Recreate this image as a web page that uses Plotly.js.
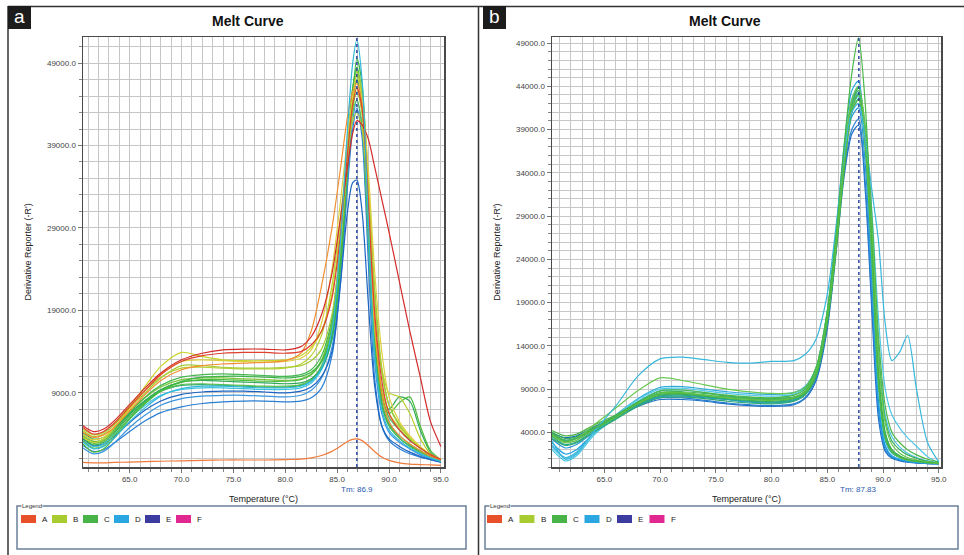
<!DOCTYPE html>
<html><head><meta charset="utf-8">
<script src="https://cdn.plot.ly/plotly-3.0.1.min.js"></script>
<style>html,body{margin:0;padding:0;background:#fff}#chart{width:964px;height:555px}</style>
</head><body><div id="chart"></div>
<script>
// ---------- DATA ----------
const panelLabels = ['a', 'b'];
const chartTitle = 'Melt Curve';
const xTitle = 'Temperature (°C)';
const yTitle = "Derivative Reporter (-R')";
const legendLabels = ['A', 'B', 'C', 'D', 'E', 'F'];
const tmA = 86.9;
const tmB = 87.83;
const tmTextA = 'Tm: 86.9';
const tmTextB = 'Tm: 87.83';

// Panel a temperatures (°C)
const tempA = [60.5, 61.5, 62.5, 63.5, 65, 66.5, 68, 70, 72, 74, 76, 78, 80, 81.5, 82.5, 83.5, 84.5, 85.3, 86, 86.5, 86.9, 87.4, 88, 88.6, 89.3, 90, 91, 92, 93, 94, 95];
// Panel a curves (-R')
const a01 = [5000, 4300, 4600, 5600, 7600, 9600, 11400, 13000, 13800, 14200, 14300, 14300, 14200, 14600, 15800, 18500, 23500, 30000, 36500, 40500, 42000, 41500, 39800, 36500, 32500, 28500, 22500, 16500, 11000, 5500, 2500];
const a02 = [550, 500, 500, 550, 600, 650, 700, 750, 800, 850, 850, 850, 900, 950, 1100, 1400, 1900, 2500, 3100, 3350, 3400, 3200, 2600, 1900, 1200, 800, 500, 350, 300, 250, 200];
const a03 = [4200, 3600, 3900, 4800, 6800, 8800, 10500, 11800, 12300, 12500, 12600, 12700, 12900, 13800, 16500, 22000, 29000, 36000, 42500, 45500, 46500, 44000, 33000, 18000, 9000, 5500, 3800, 2800, 2000, 1300, 800];
const a04 = [4800, 4000, 4300, 5300, 7300, 9300, 11200, 12800, 13500, 13800, 13900, 13900, 13800, 14000, 14800, 16500, 20500, 28000, 38000, 44000, 46000, 43500, 32000, 19000, 10500, 6500, 4500, 3200, 2300, 1500, 900];
const a05 = [3600, 3000, 3400, 4700, 7200, 9800, 12200, 13900, 13400, 13000, 12900, 12900, 13000, 13500, 14500, 16500, 21000, 29000, 38500, 44500, 46000, 43000, 31000, 17000, 9500, 6500, 4800, 3500, 2400, 1500, 900];
const a06 = [3900, 3300, 3600, 4800, 7000, 9300, 11300, 12800, 13000, 12900, 12800, 12700, 12800, 13200, 14200, 17500, 24000, 32000, 40000, 45000, 47500, 44500, 36000, 24000, 14000, 8500, 5500, 3800, 2500, 1500, 900];
const a07 = [4400, 3700, 4000, 5100, 7100, 9000, 10800, 12300, 12300, 12100, 12000, 12000, 12100, 12300, 12900, 14300, 18500, 26500, 37000, 44000, 48000, 45500, 35000, 21000, 11500, 7500, 5200, 3600, 2400, 1500, 900];
const a08 = [3500, 2700, 3000, 4100, 6200, 7900, 9300, 10400, 10900, 11000, 11000, 10900, 10800, 11000, 11500, 12800, 16000, 24000, 36000, 45000, 49500, 46500, 32000, 16000, 8000, 5200, 3800, 2800, 2000, 1300, 800];
const a09 = [2800, 1800, 2200, 3500, 5800, 7700, 9200, 10300, 10600, 10600, 10500, 10400, 10400, 10600, 11200, 12800, 17000, 26000, 38000, 46000, 48500, 45000, 30000, 15000, 8500, 6500, 7800, 8500, 5000, 2000, 900];
const a10 = [4200, 3400, 3600, 4600, 6500, 8100, 9400, 10300, 10500, 10400, 10300, 10200, 10100, 10200, 10700, 12000, 15500, 24000, 36000, 44000, 47000, 44000, 31000, 17000, 9500, 7000, 8500, 8000, 4500, 1800, 800];
const a11 = [3200, 2300, 2600, 3800, 6000, 7800, 9200, 10000, 10100, 10000, 9900, 9800, 9800, 10000, 10600, 12300, 16500, 25500, 37000, 43000, 44500, 41500, 28000, 14000, 7500, 5000, 3500, 2500, 1800, 1200, 700];
const a12 = [3800, 2900, 3200, 4300, 6400, 8000, 9200, 9900, 10000, 9900, 9800, 9700, 9700, 9900, 10500, 12000, 16000, 25000, 37500, 45000, 47500, 44000, 29000, 14500, 7500, 5000, 3500, 2600, 1900, 1200, 700];
const a13 = [3000, 2200, 2500, 3500, 5500, 7200, 8600, 9500, 9800, 9800, 9700, 9600, 9600, 9800, 10400, 12000, 16500, 27000, 41000, 49000, 51800, 47000, 30000, 14000, 7000, 4500, 3200, 2300, 1600, 1100, 700];
const a14 = [2600, 1900, 2100, 2900, 4300, 5600, 6600, 7300, 7700, 7900, 8000, 8000, 7900, 8000, 8400, 9600, 13500, 22000, 34000, 41000, 43500, 40000, 25000, 11000, 5000, 3200, 2200, 1600, 1200, 900, 600];
const a15 = [3400, 2600, 2800, 3700, 5400, 6900, 8000, 8800, 9100, 9200, 9200, 9100, 9000, 9200, 9700, 11000, 14000, 22000, 31000, 34500, 34800, 31000, 20000, 10000, 5000, 3400, 2500, 1800, 1300, 900, 600];
const a16 = [3200, 2500, 2800, 3900, 5900, 7500, 8700, 9400, 9600, 9600, 9500, 9400, 9400, 9600, 10200, 11800, 15500, 24500, 37000, 45000, 47500, 45000, 33000, 18000, 9000, 5500, 3600, 2500, 1700, 1100, 700];
const a17 = [2300, 1600, 1900, 2900, 4800, 6300, 7500, 8300, 8600, 8700, 8700, 8600, 8500, 8700, 9300, 10800, 14500, 23000, 35000, 42000, 44500, 41000, 27000, 13000, 6500, 4200, 3000, 2200, 1500, 1000, 600];
const a18 = [4600, 3900, 4200, 5300, 7400, 9300, 10900, 12000, 12100, 12000, 11900, 11900, 12000, 12500, 13500, 16000, 22000, 30000, 38000, 42000, 43000, 41000, 33000, 21000, 12000, 9000, 8500, 6500, 3500, 1600, 900];
const a19 = [4000, 3100, 3400, 4600, 6700, 8500, 9900, 10900, 11200, 11300, 11200, 11100, 11000, 11200, 11800, 13500, 18000, 27000, 39000, 46000, 48000, 45000, 32000, 17000, 9000, 6000, 4500, 3300, 2300, 1400, 800];
const a20 = [3700, 2900, 3200, 4400, 6600, 8400, 9700, 10600, 10800, 10800, 10700, 10600, 10500, 10700, 11300, 13000, 17500, 26000, 37000, 43500, 45500, 43000, 34000, 22000, 12000, 7500, 5000, 3500, 2400, 1500, 800];

// Panel b temperatures (°C)
const tempB = [60.3, 61.5, 62.5, 64, 66, 68, 70, 72, 74, 76, 78, 80, 82, 83, 84, 85, 85.8, 86.5, 87.2, 87.8, 88.4, 89, 89.6, 90.2, 90.8, 91.5, 92.2, 93, 94, 95];
// Panel b curves (-R')
const b01 = [3800, 3000, 3300, 4400, 5800, 7500, 8800, 8900, 8600, 8300, 8100, 8000, 8300, 9000, 11500, 18000, 27000, 37000, 45500, 49600, 42000, 26000, 10000, 3500, 1800, 1200, 900, 700, 550, 450];
const b02 = [3600, 2800, 3100, 4300, 5700, 7300, 8500, 8600, 8300, 8000, 7800, 7700, 8000, 8700, 11000, 17500, 26000, 35000, 41500, 43000, 37000, 24000, 9500, 3300, 1700, 1100, 800, 650, 500, 400];
const b03 = [4000, 3300, 3500, 4500, 5900, 7300, 8300, 8400, 8200, 7900, 7700, 7600, 7900, 8500, 10500, 16500, 25000, 34000, 41000, 42500, 38000, 26000, 11000, 4000, 2000, 1300, 900, 700, 550, 450];
const b04 = [3700, 2900, 3300, 4800, 6800, 8800, 10300, 10000, 9500, 9000, 8700, 8500, 8600, 9200, 11500, 18000, 27000, 36000, 42500, 44000, 39000, 27500, 12500, 5000, 2600, 1600, 1100, 800, 600, 450];
const b05 = [4200, 3600, 3800, 4800, 6000, 7400, 8400, 8500, 8300, 8100, 7900, 7800, 8000, 8600, 10800, 17000, 25500, 34500, 41000, 42500, 39000, 29000, 15000, 7000, 4000, 2800, 2000, 1400, 900, 600];
const b06 = [3300, 2500, 2800, 4000, 5500, 7000, 8000, 8100, 7900, 7600, 7400, 7300, 7600, 8300, 10500, 17000, 26000, 35500, 42000, 43500, 38500, 25500, 10500, 3800, 1900, 1200, 850, 650, 500, 400];
const b07 = [3000, 900, 1500, 4000, 7000, 10500, 12500, 12700, 12400, 12100, 12000, 12200, 12300, 13000, 14800, 20000, 28000, 36000, 41000, 42000, 38000, 32000, 26000, 16500, 12300, 13300, 15200, 9000, 2800, 600];
const b08 = [2800, 1500, 2000, 3800, 5600, 7300, 8400, 8400, 8100, 7800, 7500, 7400, 7700, 8500, 11000, 18000, 27500, 37000, 43500, 44600, 37000, 22000, 7500, 2500, 1300, 900, 700, 550, 450, 400];
const b09 = [3900, 3400, 3600, 4600, 5800, 7000, 7800, 7800, 7600, 7300, 7100, 7000, 7200, 7900, 10000, 16000, 25000, 33500, 38500, 39500, 32000, 18000, 5500, 1800, 1000, 700, 550, 450, 400, 350];
const b10 = [3600, 3100, 3300, 4400, 5700, 7100, 8000, 8000, 7700, 7400, 7200, 7100, 7300, 8000, 10300, 16500, 25500, 34000, 39000, 40200, 33000, 19000, 6500, 2000, 1100, 800, 600, 500, 400, 350];
const b11 = [2000, 700, 1300, 3600, 5800, 7600, 8800, 8900, 8600, 8200, 7900, 7800, 8000, 8800, 11200, 17500, 26500, 35500, 41500, 43000, 38000, 27000, 13000, 6000, 3500, 2300, 1600, 1100, 700, 500];
const b12 = [2500, 1100, 1700, 3900, 6000, 7900, 9200, 9300, 9000, 8700, 8500, 8400, 8600, 9300, 11500, 18000, 27000, 36000, 42500, 44000, 37500, 24000, 9000, 3000, 1600, 1100, 800, 600, 500, 400];
const b13 = [3200, 2200, 2600, 4000, 5600, 7100, 8100, 8200, 8000, 7800, 7600, 7500, 7800, 8600, 11000, 17500, 26500, 35000, 40500, 41500, 35000, 21000, 7000, 2300, 1200, 850, 650, 500, 420, 380];
const b14 = [3900, 3100, 3400, 4500, 5900, 7500, 8600, 8700, 8500, 8200, 8000, 7900, 8100, 8800, 11000, 17500, 26500, 35500, 42000, 43800, 39500, 28000, 13500, 5500, 3000, 2000, 1400, 1000, 650, 450];
const b15 = [2300, 1000, 1600, 3800, 5900, 7800, 9000, 9100, 8800, 8500, 8300, 8200, 8400, 9100, 11500, 17800, 26500, 35500, 41500, 42800, 38500, 29500, 17000, 9000, 6000, 4500, 3400, 2400, 1200, 500];
const b16 = [3500, 2600, 2900, 4200, 5700, 7200, 8200, 8300, 8100, 7800, 7600, 7500, 7700, 8400, 10800, 17000, 26000, 35000, 41500, 43200, 38000, 25000, 10000, 3500, 1800, 1200, 850, 650, 500, 400];

// ---------- STYLE ----------
const seriesA = [
  [a02, '#f07a3a'], [a14, '#2a7fd4'], [a17, '#3a96e0'], [a15, '#1c64c4'], [a16, '#3ec0e0'],
  [a12, '#2aa878'], [a11, '#58c04e'], [a20, '#7cc43c'], [a19, '#44b850'], [a10, '#30aa5a'],
  [a09, '#4cbc3c'], [a08, '#3cb44a'], [a18, '#b8d030'], [a07, '#a6cc38'], [a06, '#e0d040'],
  [a05, '#c8d428'], [a03, '#f29030'], [a04, '#e04030'], [a01, '#d42a2a'], [a13, '#30b8dc']
];
const seriesB = [
  [b09, '#1a6cc6'], [b10, '#2a80d0'], [b13, '#2896d8'], [b08, '#22a2e2'], [b11, '#48c4e4'],
  [b12, '#30acd8'], [b15, '#50c8e8'], [b16, '#28a890'], [b06, '#2ea870'], [b03, '#3aac5a'],
  [b05, '#50b848'], [b14, '#40b060'], [b02, '#5cc040'], [b04, '#6ac850'], [b07, '#38b8dc'], [b01, '#48b848']
];
const legendColors = ['#e8502a', '#a8cc30', '#48b448', '#2aa6e0', '#3c3ca0', '#e02890'];
const yMaxA = 52160, yMaxB = 49700;

const W = 964, H = 555;
const X = px => px / W;
const Y = py => 1 - py / H;
const FONT = 'Liberation Sans, Arial, sans-serif';

const traces = [];
seriesA.forEach(([ys, c]) => traces.push({x: tempA, y: ys, xaxis: 'x', yaxis: 'y', mode: 'lines',
  line: {color: c, width: 1.2, shape: 'spline', smoothing: 0.8}, hoverinfo: 'skip'}));
seriesB.forEach(([ys, c]) => traces.push({x: tempB, y: ys, xaxis: 'x2', yaxis: 'y2', mode: 'lines',
  line: {color: c, width: 1.2, shape: 'spline', smoothing: 0.8}, hoverinfo: 'skip'}));
traces.push({x: [tmA, tmA], y: [0, yMaxA], xaxis: 'x', yaxis: 'y', mode: 'lines',
  line: {color: '#1e3c9c', width: 1.4, dash: 'dot'}, hoverinfo: 'skip'});
traces.push({x: [tmB, tmB], y: [0, yMaxB], xaxis: 'x2', yaxis: 'y2', mode: 'lines',
  line: {color: '#1e3c9c', width: 1.4, dash: 'dot'}, hoverinfo: 'skip'});

const gridC = '#c6c6c6';
function xAxis(domain, range) {
  return {domain, range, tickmode: 'linear', tick0: 65, dtick: 5, tickformat: '.1f',
    showgrid: true, gridcolor: gridC, gridwidth: 1, zeroline: false,
    ticks: 'outside', ticklen: 4, tickcolor: '#777',
    minor: {tick0: 65, dtick: 1, showgrid: true, gridcolor: gridC, gridwidth: 1, ticks: 'outside', ticklen: 3, tickcolor: '#888'},
    showline: true, mirror: true, linecolor: '#4a4a4a', linewidth: 1.5,
    tickfont: {family: FONT, size: 8, color: '#444'},
    title: {text: xTitle, font: {family: FONT, size: 9, color: '#222'}, standoff: 12}};
}
function yAxis(anchor, range, t0, dt, mdt) {
  return {domain: [Y(467), Y(37)], range, anchor, tickmode: 'linear', tick0: t0, dtick: dt, tickformat: '.1f',
    showgrid: true, gridcolor: gridC, gridwidth: 1, zeroline: false,
    ticks: 'outside', ticklen: 4, tickcolor: '#777',
    minor: {tick0: t0, dtick: mdt, showgrid: true, gridcolor: gridC, gridwidth: 1, ticks: 'outside', ticklen: 3, tickcolor: '#888'},
    showline: true, mirror: true, linecolor: '#4a4a4a', linewidth: 1.5,
    tickfont: {family: FONT, size: 8, color: '#444'},
    title: {text: yTitle, font: {family: FONT, size: 9, color: '#222'}, standoff: 14}};
}

const shapes = [
  {type: 'line', xref: 'paper', yref: 'paper', x0: X(8), x1: X(964), y0: Y(6.5), y1: Y(6.5), line: {color: '#333', width: 1.5}},
  {type: 'line', xref: 'paper', yref: 'paper', x0: X(8), x1: X(8), y0: Y(6), y1: Y(555), line: {color: '#333', width: 1.5}},
  {type: 'line', xref: 'paper', yref: 'paper', x0: X(478.5), x1: X(478.5), y0: Y(6), y1: Y(555), line: {color: '#333', width: 1.5}},
  {type: 'rect', xref: 'paper', yref: 'paper', x0: X(8), x1: X(31), y0: Y(6), y1: Y(29), fillcolor: '#1c1c1c', line: {width: 0}},
  {type: 'rect', xref: 'paper', yref: 'paper', x0: X(483), x1: X(506), y0: Y(6), y1: Y(29), fillcolor: '#1c1c1c', line: {width: 0}},
  {type: 'rect', xref: 'paper', yref: 'paper', x0: X(17), x1: X(466), y0: Y(506), y1: Y(549), line: {color: '#6a7f9a', width: 1.5}},
  {type: 'rect', xref: 'paper', yref: 'paper', x0: X(485), x1: X(958), y0: Y(506), y1: Y(549), line: {color: '#6a7f9a', width: 1.5}}
];
const ann = (o) => Object.assign({xref: 'paper', yref: 'paper', showarrow: false, xanchor: 'center', yanchor: 'middle'}, o);
const annotations = [
  ann({x: X(248), y: Y(21), text: '<b>' + chartTitle + '</b>', font: {family: FONT, size: 14, color: '#111'}}),
  ann({x: X(725), y: Y(21), text: '<b>' + chartTitle + '</b>', font: {family: FONT, size: 14, color: '#111'}}),
  ann({x: X(19.5), y: Y(16.5), text: panelLabels[0], font: {family: FONT, size: 19, color: '#fff'}}),
  ann({x: X(494.5), y: Y(16.5), text: panelLabels[1], font: {family: FONT, size: 19, color: '#fff'}}),
  ann({xref: 'x', x: tmA, y: Y(489), text: tmTextA, font: {family: FONT, size: 8, color: '#2a5ab0'}}),
  ann({xref: 'x2', x: tmB, y: Y(489), text: tmTextB, font: {family: FONT, size: 8, color: '#2a5ab0'}}),
  ann({x: X(21), y: Y(506), xanchor: 'left', text: 'Legend', bgcolor: '#fff', borderpad: 0, font: {family: FONT, size: 6, color: '#333'}}),
  ann({x: X(489), y: Y(506), xanchor: 'left', text: 'Legend', bgcolor: '#fff', borderpad: 0, font: {family: FONT, size: 6, color: '#333'}})
];
[[21, 31], [487, 32.5]].forEach(([x0, step]) => {
  legendLabels.forEach((lab, i) => {
    const sx = x0 + i * step;
    shapes.push({type: 'rect', xref: 'paper', yref: 'paper', x0: X(sx), x1: X(sx + 15), y0: Y(515), y1: Y(523), fillcolor: legendColors[i], line: {width: 0}});
    annotations.push(ann({x: X(sx + 19), y: Y(519), xanchor: 'left', text: lab, font: {family: FONT, size: 8, color: '#222'}}));
  });
});

const layout = {
  width: W, height: H, margin: {l: 0, r: 0, t: 0, b: 0},
  paper_bgcolor: '#fff', plot_bgcolor: '#fff', showlegend: false,
  font: {family: FONT},
  xaxis: Object.assign(xAxis([X(83), X(444)], [60.5, 95.3]), {anchor: 'y'}),
  yaxis: yAxis('x', [0, yMaxA], 9000, 10000, 2000),
  xaxis2: Object.assign(xAxis([X(552), X(941)], [60.3, 95.2]), {anchor: 'y2'}),
  yaxis2: yAxis('x2', [0, yMaxB], 4000, 5000, 1000),
  shapes, annotations
};
Plotly.newPlot('chart', traces, layout, {staticPlot: true, displayModeBar: false});
</script>
</body></html>
